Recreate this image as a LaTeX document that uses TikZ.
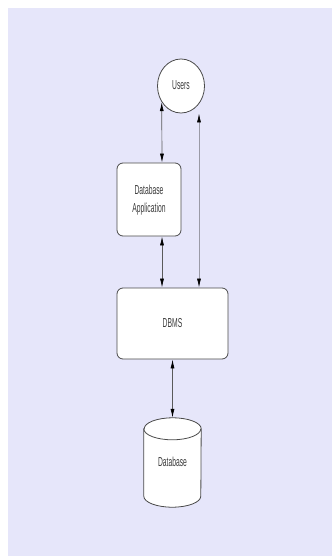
\documentclass[tikz,border=0pt]{standalone}
\usepackage{fontspec}
\setmainfont{Liberation Sans}
\usetikzlibrary{arrows.meta,shapes.geometric,calc}
\definecolor{canvas}{HTML}{E6E6FA}
\definecolor{edge}{HTML}{4A4A4A}
\definecolor{ink}{HTML}{3C3C3C}
\definecolor{wire}{HTML}{5A5A5A}
\definecolor{wirelight}{HTML}{9A9AA6}
\newcommand\lbl[1]{\scalebox{0.52}[1]{\fontsize{13}{18}\selectfont\begin{tabular}{@{}c@{}}#1\end{tabular}}}
\tikzset{
  block/.style={draw=edge, line width=0.8pt, fill=white, rounded corners=6pt,
    inner sep=0pt, text=ink},
  actor/.style={ellipse, draw=edge, line width=0.8pt, fill=white,
    inner sep=0pt, text=ink, minimum width=47pt, minimum height=54pt},
  flow/.style={draw=wire, line width=0.7pt,
    {Latex[length=9pt,width=4pt,black]}-{Latex[length=9pt,width=4pt,black]}},
}
\begin{document}
\begin{tikzpicture}[x=1pt,y=-1pt]
  \useasboundingbox (0,0) rectangle (332,556);
  \fill[canvas] (8,8) rectangle (332,556);

  % entities
  \node[actor] (users) at (181,86) {\lbl{Users}};
  \node[block, minimum width=64pt, minimum height=73pt] (app) at (149,199.5)
    {\lbl{Database\\Application}};
  \node[block, minimum width=111pt, minimum height=71pt] (dbms) at (172.5,323.5)
    {\lbl{DBMS}};

  % database store: an invisible frame that carries the cylinder outline
  \node[minimum width=57pt, minimum height=89pt, inner sep=0pt] (db) at (172.5,462.5) {};
  \path[draw=edge, line width=0.8pt, fill=white]
    ($(db.north west)+(0,11)$) -- ($(db.south west)+(0,-11)$)
    arc[start angle=180, end angle=360, x radius=28.5pt, y radius=11pt]
    -- ($(db.north east)+(0,11)$)
    arc[start angle=0, end angle=180, x radius=28.5pt, y radius=11pt] -- cycle;
  \draw[edge, line width=0.8pt] ($(db.north west)+(0,11)$)
    arc[start angle=180, end angle=360, x radius=28.5pt, y radius=11pt];
  \node[text=ink] at (db.center) {\lbl{Database}};

  % connector columns
  \coordinate (lcol) at (162,0);
  \coordinate (rcol) at (199,0);

  % connectors
  \draw[flow] (users.-140) -- (lcol |- app.north);
  \draw[flow, draw=wirelight] (rcol |- users.south) -- (rcol |- dbms.north);
  \draw[flow] (lcol |- app.south) -- (lcol |- dbms.north);
  \draw[flow] (dbms.south) -- (db.north);
\end{tikzpicture}
\end{document}
